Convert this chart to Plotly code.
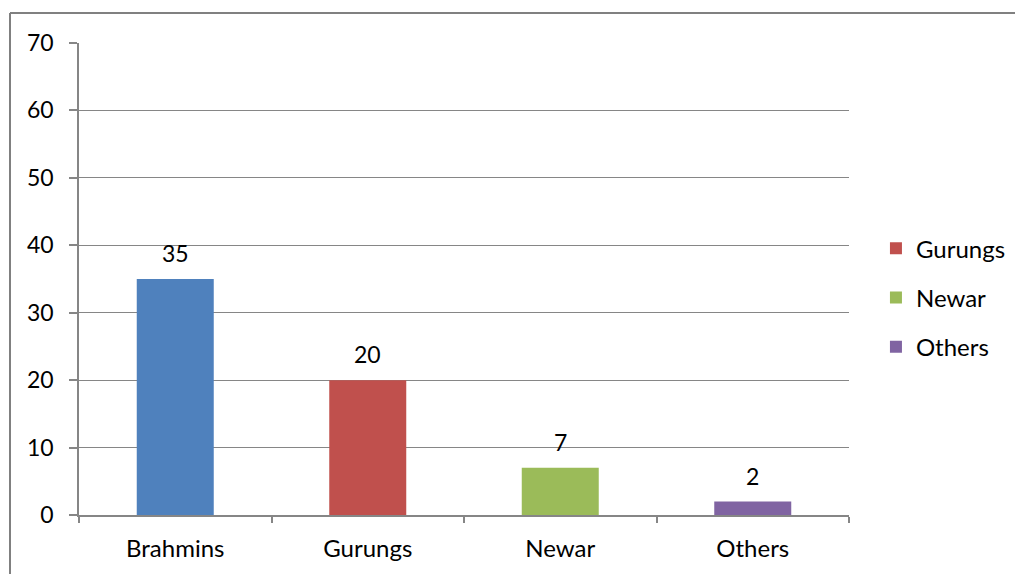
import plotly.graph_objects as go

categories = ["Brahmins", "Gurungs", "Newar", "Others"]
values = [35, 20, 7, 2]
colors = ["#4F81BD", "#C0504D", "#9BBB59", "#8064A2"]
show_in_legend = [False, True, True, True]

W, H = 1015, 574
L, R, T, B = 79, 166, 43, 59
pw, ph = W - L - R, H - T - B

fig = go.Figure()
for i, (c, v, col) in enumerate(zip(categories, values, colors)):
    fig.add_trace(go.Bar(
        x=[c], y=[v], name=c, marker=dict(color=col, line=dict(width=0)),
        showlegend=show_in_legend[i], legendgroup=c,
    ))
    fig.add_annotation(x=c, y=v, text=str(v), showarrow=False, yshift=26,
                       font=dict(size=23, color="#000000"))

grid = "#868686"
fig.update_layout(
    width=W, height=H,
    margin=dict(l=L, r=R, t=T, b=B, autoexpand=False),
    paper_bgcolor="white", plot_bgcolor="white",
    font=dict(family="Lato, Carlito, Open Sans, sans-serif", size=23, color="#000000"),
    barmode="overlay", bargap=0.6,
    showlegend=True,
    legend=dict(x=1.035, y=0.612, xanchor="left", yanchor="top",
                traceorder="grouped", tracegroupgap=15,
                font=dict(size=24), bgcolor="rgba(0,0,0,0)"),
    xaxis=dict(type="category", categoryorder="array", categoryarray=categories,
               showline=True, linecolor=grid, linewidth=1.5,
               ticks="outside", tickson="boundaries", ticklen=6, tickcolor=grid, tickwidth=1.5,
               showgrid=False, tickfont=dict(size=24), ticklabelstandoff=11),
    yaxis=dict(range=[0, 70], dtick=10, showgrid=True, gridcolor=grid, gridwidth=1.3,
               showline=True, linecolor=grid, linewidth=1.5,
               ticks="outside", ticklen=8, tickcolor=grid, tickwidth=1.5,
               zeroline=False, tickfont=dict(size=23), ticklabelstandoff=11),
)

# outer chart border (left and top edges visible)
bx = (10 - L) / pw
by = 1 + (T - 13) / ph
fig.add_shape(type="line", xref="paper", yref="paper", x0=bx, x1=bx, y0=-0.2, y1=by,
              line=dict(color="#808080", width=2))
fig.add_shape(type="line", xref="paper", yref="paper", x0=bx, x1=1.3, y0=by, y1=by,
              line=dict(color="#808080", width=2))

fig.write_html("out.html")
